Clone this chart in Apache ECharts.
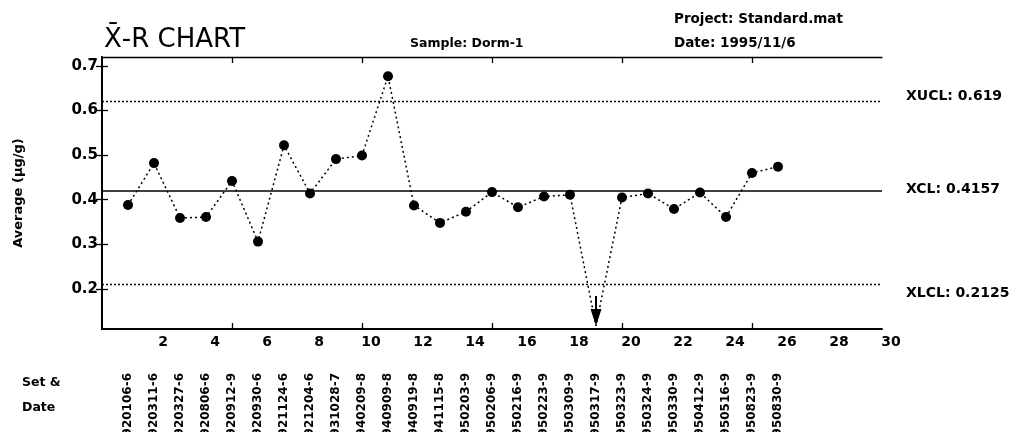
<!DOCTYPE html>
<html><head><meta charset="utf-8">
<script src="https://cdn.jsdelivr.net/npm/echarts@6/dist/echarts.min.js"></script>
<style>html,body{margin:0;padding:0;background:#fff}#c{width:1023px;height:432px}</style>
</head><body><div id="c"></div>
<script>
// ---- data ----
const sampleNo = [1,2,3,4,5,6,7,8,9,10,11,12,13,14,15,16,17,18,19,20,21,22,23,24,25,26];
const sampleDates = ['920106-6','920311-6','920327-6','920806-6','920912-9','920930-6','921124-6','921204-6','931028-7','940209-8','940909-8','940919-8','941115-8','950203-9','950206-9','950216-9','950223-9','950309-9','950317-9','950323-9','950324-9','950330-9','950412-9','950516-9','950823-9','950830-9'];
// sample 19 is off scale (below axis); drawn at the bottom with an arrow
const averages = [0.388,0.482,0.359,0.361,0.442,0.306,0.522,0.414,0.491,0.499,0.677,0.387,0.348,0.373,0.417,0.383,0.407,0.411,0.117,0.405,0.414,0.379,0.416,0.361,0.460,0.474];
const offScaleIndex = 18;
const yTickValues = [0.2,0.3,0.4,0.5,0.6,0.7];
const xLabelValues = [2,4,6,8,10,12,14,16,18,20,22,24,26,28,30];
const xTickValues = [5,10,15,20,25];
const controlNames = ['XUCL','XCL','XLCL'];
const controlValues = [0.619,0.4157,0.2125];

const FONT = 'DejaVu Sans';
const chart = echarts.init(document.getElementById('c'), null, {renderer:'canvas'});

const arrowPath = 'path://M4.5,0 L6.5,0 L6.5,13 L11,13 L5.5,30 L0,13 L4.5,13 Z';
const seriesData = averages.map((v,i)=>{
  const d = {value:[sampleNo[i], v]};
  if (i === offScaleIndex) {
    d.symbol = arrowPath; d.symbolSize = [11,30]; d.symbolOffset = [0,-15];
  }
  return d;
});

const labelOffsets = [[0,-5],[0,-1],[0,9]];
const markData = controlNames.map((n,i)=>({
  name:n, yAxis:controlValues[i],
  lineStyle:{color:'#000', width: i===1?1.6:1.3, type: i===1?'solid':[2,2]},
  label:{show:true, position:'end', distance:24, formatter: n+': '+controlValues[i],
         color:'#000', fontFamily:FONT, fontWeight:'bold', fontSize:14, offset:labelOffsets[i]}
}));

const option = {
  backgroundColor:'#fff',
  animation:false,
  grid:{left:102, right:141, top:57, bottom:103, containLabel:false, outerBoundsMode:'none'},
  xAxis:[
    {type:'value', min:0, max:30, position:'bottom',
     axisLine:{show:true, lineStyle:{color:'#000', width:2}},
     axisTick:{show:true, inside:true, length:6, customValues:xTickValues, lineStyle:{color:'#000', width:1.3}},
     axisLabel:{show:true, customValues:xLabelValues, margin:6, color:'#000', fontFamily:FONT, fontWeight:'bold', fontSize:14, padding:[0,0,0,18]},
     splitLine:{show:false}},
    {type:'value', min:0, max:30, position:'bottom',
     axisLine:{show:false}, axisTick:{show:false}, splitLine:{show:false},
     axisLabel:{show:true, customValues:sampleNo, rotate:90, margin:44, color:'#000', fontFamily:FONT, fontWeight:'bold', fontSize:12,
       formatter:(v)=>sampleDates[Math.round(v)-1] || ''}},
    {type:'value', min:0, max:30, position:'top',
     axisLine:{show:true, lineStyle:{color:'#000', width:1.3}},
     axisTick:{show:true, inside:true, length:6, customValues:xTickValues, lineStyle:{color:'#000', width:1.3}},
     axisLabel:{show:false}, splitLine:{show:false}}
  ],
  yAxis:[
    {type:'value', min:0.11, max:0.72, position:'left',
     name:'Average (μg/g)', nameLocation:'middle', nameRotate:90, nameGap:77,
     nameTextStyle:{color:'#000', fontFamily:FONT, fontWeight:'bold', fontSize:13},
     axisLine:{show:true, lineStyle:{color:'#000', width:2}},
     axisTick:{show:true, inside:true, length:6, customValues:yTickValues, lineStyle:{color:'#000', width:1.3}},
     axisLabel:{show:true, customValues:yTickValues, margin:4, color:'#000', fontFamily:FONT, fontWeight:'bold', fontSize:15,
       formatter:(v)=>v.toFixed(1)},
     splitLine:{show:false}},
    {type:'value', min:0.11, max:0.72, position:'right',
     axisLine:{show:true, lineStyle:{color:'#000', width:1.5}},
     axisTick:{show:true, inside:true, length:6, customValues:yTickValues, lineStyle:{color:'#000', width:1.3}},
     axisLabel:{show:false}, splitLine:{show:false}}
  ],
  series:[{
    type:'line', xAxisIndex:0, yAxisIndex:0,
    data:seriesData,
    symbol:'circle', symbolSize:10,
    itemStyle:{color:'#000'},
    lineStyle:{color:'#000', width:1.5, type:[2,3]},
    markLine:{silent:true, symbol:'none', animation:false, data:markData}
  }],
  graphic:[
    {type:'text', left:104, top:27, style:{text:'X\u0304-R CHART', fill:'#000', font:'26px "DejaVu Sans"'}},
    {type:'text', left:410, top:37, style:{text:'Sample: Dorm-1', fill:'#000', font:'bold 12.5px "DejaVu Sans"'}},
    {type:'text', left:674, top:12, style:{text:'Project: Standard.mat', fill:'#000', font:'bold 13.5px "DejaVu Sans"'}},
    {type:'text', left:674, top:36, style:{text:'Date: 1995/11/6', fill:'#000', font:'bold 13.5px "DejaVu Sans"'}},
    {type:'text', left:22, top:376, style:{text:'Set &', fill:'#000', font:'bold 12.5px "DejaVu Sans"'}},
    {type:'text', left:22, top:401, style:{text:'Date', fill:'#000', font:'bold 12.5px "DejaVu Sans"'}}
  ]
};
chart.setOption(option);
</script>
</body></html>
